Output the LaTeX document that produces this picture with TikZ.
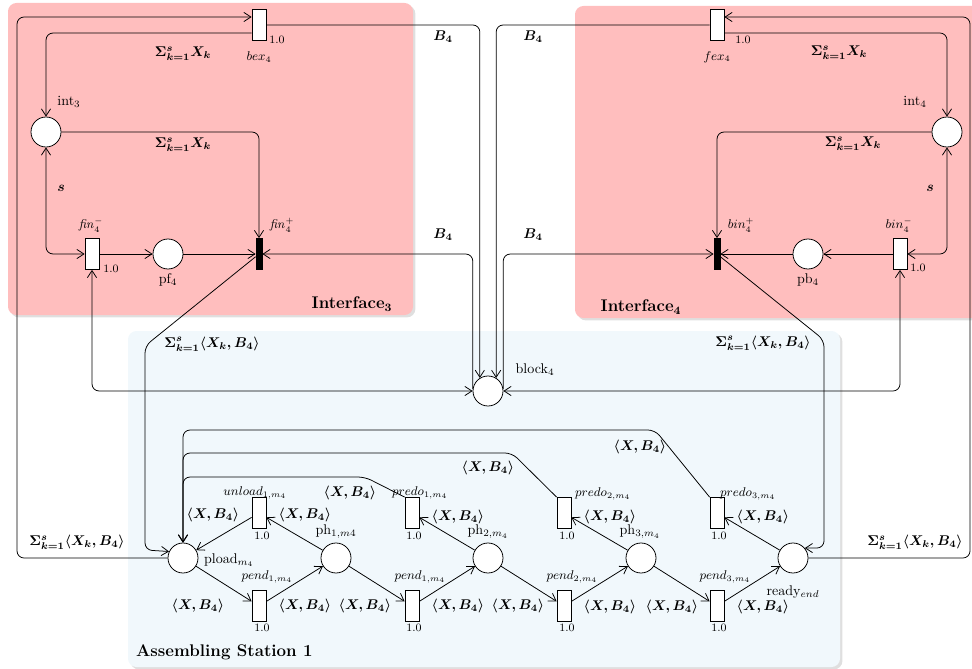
\documentclass[tikz,border=0pt]{standalone}
\usepackage{amsmath}
\usetikzlibrary{arrows.meta,shadows}

\definecolor{ifpink}{RGB}{255,190,190}
\definecolor{asblue}{RGB}{241,248,252}

\newcommand{\xb}{$\boldsymbol{\langle X,B_4\rangle}$}
\newcommand{\sxk}{$\boldsymbol{\Sigma^s_{k=1}X_k}$}
\newcommand{\sxkb}{$\boldsymbol{\Sigma^s_{k=1}\langle X_k,B_4\rangle}$}

\begin{document}
\begin{tikzpicture}[x=0.025cm,y=-0.025cm,line width=0.55pt,
  place/.style={circle,draw,fill=white,minimum size=0.75cm,inner sep=0pt},
  trans/.style={rectangle,draw,fill=white,minimum width=0.35cm,minimum height=0.775cm,inner sep=0pt},
  bar/.style={rectangle,draw,fill=black,minimum width=0.15cm,minimum height=0.775cm,inner sep=0pt},
  flow/.style={-{Straight Barb[length=5pt,width=6.5pt]},rounded corners=5pt},
  flowboth/.style={{Straight Barb[length=5pt,width=6.5pt]}-{Straight Barb[length=5pt,width=6.5pt]},rounded corners=5pt},
  wt/.style={inner sep=0pt},
  tname/.style={font=\small,inner sep=0pt},
  pname/.style={font=\normalsize,inner sep=0pt},
  num/.style={font=\footnotesize,inner sep=0pt},
  panel/.style={rounded corners=6pt,drop shadow={shadow xshift=0.6mm,shadow yshift=-0.6mm,opacity=0.25}}]
\useasboundingbox (0,0) rectangle (972,669);

% panels
\fill[ifpink,panel] (8,3) rectangle (413,315);
\fill[ifpink,panel] (575,6) rectangle (990,318);
\fill[asblue,panel] (128,331) rectangle (840,667);
\node[font=\large\bfseries] (ifthree) at (352,304) {Interface$_{\boldsymbol{3}}$};
\node[font=\large\bfseries] (iffour) at (641,307) {Interface$_{\boldsymbol{4}}$};
\node[font=\large\bfseries,anchor=west] (asm) at (131,652) {Assembling Station 1};

% interface 3
\node[trans] (bex) at (259,25) {};
\node[place] (intthree) at (46,132) {};
\node[trans] (finm) at (92,254) {};
\node[place] (pf) at (168,254) {};
\node[bar] (finp) at (259,254) {};
\node[tname] (lbex) at (259,57) {$bex_4$};
\node[num] (nbex) at (277,40) {1.0};
\node[pname] (lintthree) at (69,102) {int$_3$};
\node[tname] (lfinm) at (91,225) {$\mathit{fin}_4^-$};
\node[num] (nfinm) at (111,269) {1.0};
\node[pname] (lpf) at (168,280) {pf$_4$};
\node[tname] (lfinp) at (282,225) {$\mathit{fin}_4^+$};
\node[wt] (wa) at (183,54) {\sxk};
\node[wt] (wb) at (183,145) {\sxk};
\node[wt] (wc) at (61,188) {$\boldsymbol{s}$};

% interface 4
\node[trans] (fex) at (717,25) {};
\node[place] (intfour) at (947,132) {};
\node[bar] (binp) at (717,254) {};
\node[place] (pb) at (808,254) {};
\node[trans] (binm) at (900,254) {};
\node[tname] (lfex) at (717,57) {$fex_4$};
\node[num] (nfex) at (743,40) {1.0};
\node[pname] (lintfour) at (915,102) {int$_4$};
\node[tname] (lbinp) at (741,225) {$bin_4^+$};
\node[tname] (lbinm) at (899,225) {$bin_4^-$};
\node[num] (nbinm) at (918,268) {1.0};
\node[pname] (lpb) at (808,280) {pb$_4$};
\node[wt] (wd) at (839,53) {\sxk};
\node[wt] (we) at (853,144) {\sxk};
\node[wt] (wf) at (930,188) {$\boldsymbol{s}$};

% block
\node[place] (block) at (488,391) {};
\node[pname] (lblock) at (535,370) {block$_4$};
\node[wt] (wg) at (443,37) {$\boldsymbol{B_4}$};
\node[wt] (wh) at (443,235) {$\boldsymbol{B_4}$};
\node[wt] (wi) at (533,37) {$\boldsymbol{B_4}$};
\node[wt] (wj) at (533,235) {$\boldsymbol{B_4}$};
\node[wt] (wk) at (212,344) {\sxkb};
\node[wt] (wl) at (763,343) {\sxkb};
\node[wt] (wm) at (77,542) {\sxkb};
\node[wt] (wn) at (915,542) {\sxkb};

% assembling station
\node[place] (pload) at (183,558) {};
\node[place] (phone) at (336,558) {};
\node[place] (phtwo) at (488,558) {};
\node[place] (phthree) at (641,558) {};
\node[place] (ready) at (793,558) {};
\node[trans] (unload) at (259,513) {};
\node[trans] (predoone) at (412,513) {};
\node[trans] (predotwo) at (564,513) {};
\node[trans] (predothree) at (717,513) {};
\node[trans] (pendone) at (259,606) {};
\node[trans] (pendtwo) at (412,606) {};
\node[trans] (pendthree) at (564,606) {};
\node[trans] (pendfour) at (717,606) {};

\node[pname] (lpload) at (229,560) {pload$_{m_4}$};
\node[pname] (lphone) at (336,532) {ph$_{1,m4}$};
\node[pname] (lphtwo) at (488,532) {ph$_{2,m_4}$};
\node[pname] (lphthree) at (640,532) {ph$_{3,m_4}$};
\node[pname] (lready) at (793,592) {ready$_{end}$};
\node[tname] (lunload) at (255,493) {$unload_{1,m_4}$};
\node[tname] (lpredoone) at (420,493) {$predo_{1,m_4}$};
\node[tname] (lpredotwo) at (603,494) {$predo_{2,m_4}$};
\node[tname] (lpredothree) at (748,494) {$predo_{3,m_4}$};
\node[tname] (lpendone) at (267,577) {$pend_{1,m_4}$};
\node[tname] (lpendtwo) at (420,577) {$pend_{1,m_4}$};
\node[tname] (lpendthree) at (572,577) {$pend_{2,m_4}$};
\node[tname] (lpendfour) at (725,577) {$pend_{3,m_4}$};
\node[num] (nunload) at (262,536) {1.0};
\node[num] (npredoone) at (414,536) {1.0};
\node[num] (npredotwo) at (567,536) {1.0};
\node[num] (npredothree) at (719,536) {1.0};
\node[num] (npendone) at (262,628) {1.0};
\node[num] (npendtwo) at (414,628) {1.0};
\node[num] (npendthree) at (567,628) {1.0};
\node[num] (npendfour) at (719,628) {1.0};

\node[wt] (xa) at (488,468) {\xb};
\node[wt] (xb) at (350,493) {\xb};
\node[wt] (xc) at (640,447) {\xb};
\node[wt] (xd) at (213,515) {\xb};
\node[wt] (xe) at (305,515) {\xb};
\node[wt] (xf) at (458,517) {\xb};
\node[wt] (xg) at (610,517) {\xb};
\node[wt] (xh) at (763,517) {\xb};
\node[wt] (xi) at (198,606) {\xb};
\node[wt] (xj) at (305,606) {\xb};
\node[wt] (xk) at (365,606) {\xb};
\node[wt] (xl) at (458,606) {\xb};
\node[wt] (xm) at (518,606) {\xb};
\node[wt] (xn) at (610,607) {\xb};
\node[wt] (xo) at (672,607) {\xb};
\node[wt] (xp) at (763,607) {\xb};

% arcs of interface 3
\draw[flow] (pload.west) -| (17,17) -- ([yshift=0.2cm]bex.west);
\draw[flow] ([yshift=-0.2cm]bex.west) -| (intthree.north);
\draw[flow] (intthree.east) -| (finp.north);
\draw[flowboth] (finm.west) -| (intthree.south);
\draw[flow] (finm) -- (pf);
\draw[flow] (pf) -- (finp);
\draw[flow] (finp) -- (145,346) -- (145,550) -- (pload.155);

% arcs of interface 4
\draw[flow] (ready.east) -- (970,558) -- (970,17) -- ([yshift=0.2cm]fex.east);
\draw[flow] ([yshift=-0.2cm]fex.east) -| (intfour.north);
\draw[flow] (intfour.west) -| (binp.north);
\draw[flowboth] (binm.east) -| (intfour.south);
\draw[flow] (binm) -- (pb);
\draw[flow] (pb) -- (binp);
\draw[flow] (binp) -- (824,340) -- (824,548) -- (ready.40);

% block arcs
\draw[flow] (bex.east) -| (block.122);
\draw[flow] (fex.west) -| (block.58);
\draw[flow] (block.172) |- (finp.east);
\draw[flow] (block.8) |- (binp.west);
\draw[flowboth] (finm.south) |- (block.west);
\draw[flowboth] (binm.south) |- (block.east);

% station arcs
\draw[flow] (pload) -- (pendone);
\draw[flow] (pendone) -- (phone);
\draw[flow] (phone) -- (unload);
\draw[flow] (unload) -- (pload);
\draw[flow] (phone) -- (pendtwo);
\draw[flow] (pendtwo) -- (phtwo);
\draw[flow] (phtwo) -- (predoone);
\draw[flow] (phtwo) -- (pendthree);
\draw[flow] (pendthree) -- (phthree);
\draw[flow] (phthree) -- (predotwo);
\draw[flow] (phthree) -- (pendfour);
\draw[flow] (pendfour) -- (ready);
\draw[flow] (ready) -- (predothree);
\draw[flow] (predoone.north west) -- (365,477) -- (183,477) -- (pload.north);
\draw[flow] (predotwo.north west) -- (512,453) -- (183,453) -- (pload.north);
\draw[flow] (predothree.north west) -- (655,430) -- (183,430) -- (pload.north);
\end{tikzpicture}
\end{document}
